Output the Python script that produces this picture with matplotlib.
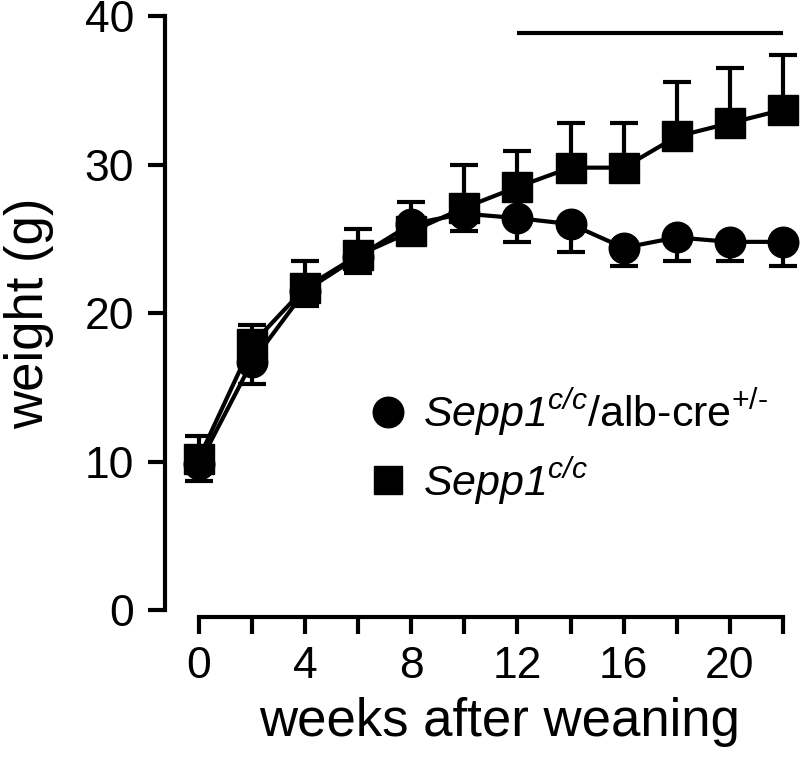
import matplotlib
matplotlib.use("Agg")
import matplotlib.pyplot as plt
from matplotlib.lines import Line2D

plt.rcParams['font.family'] = ['Liberation Sans', 'DejaVu Sans']
plt.rcParams['mathtext.fontset'] = 'custom'
plt.rcParams['mathtext.rm'] = 'Liberation Sans'
plt.rcParams['mathtext.it'] = 'Liberation Sans:italic'
plt.rcParams['mathtext.sf'] = 'Liberation Sans:italic'

weeks = [0, 2, 4, 6, 8, 10, 12, 14, 16, 18, 20, 22]
ko_mean = [9.8, 16.7, 21.5, 23.8, 26.0, 26.7, 26.4, 26.0, 24.4, 25.1, 24.8, 24.8]
ko_sd = [1.1, 1.5, 1.0, 1.1, 1.0, 1.2, 1.6, 1.9, 1.2, 1.6, 1.3, 1.6]
ctl_mean = [10.2, 17.9, 21.7, 23.9, 25.5, 27.1, 28.5, 29.8, 29.8, 31.9, 32.8, 33.7]
ctl_sd = [1.5, 1.3, 1.8, 1.8, 2.0, 2.9, 2.4, 3.0, 3.0, 3.7, 3.7, 3.7]
sig_span = [12, 22]
sig_y = 38.9
xticks = [0, 2, 4, 6, 8, 10, 12, 14, 16, 18, 20, 22]
xticklabels = ['0', '', '4', '', '8', '', '12', '', '16', '', '20', '']
yticks = [0, 10, 20, 30, 40]
label_ko = '$\\mathsf{Sepp1}^{\\mathsf{c/c}}$/alb-cre$^{\\mathrm{+/\u2010}}$'
label_ctl = '$\\mathsf{Sepp1}^{\\mathsf{c/c}}$'

fig = plt.figure(figsize=(8, 7.75), dpi=100)
ax = fig.add_axes([0.206, 0.213, 0.786, 0.766])

lw = 3
ms = 22
ax.errorbar(weeks, ko_mean, yerr=[ko_sd, [0]*len(ko_sd)], fmt='-o', color='black',
            ms=ms, lw=lw, elinewidth=lw, capsize=10, capthick=lw, clip_on=False, zorder=3)
ax.errorbar(weeks, ctl_mean, yerr=[[0]*len(ctl_sd), ctl_sd], fmt='-s', color='black',
            ms=ms - 1, lw=lw, elinewidth=lw, capsize=10, capthick=lw, clip_on=False, zorder=4)

ax.plot(sig_span, [sig_y, sig_y], color='black', lw=3, solid_capstyle='butt', clip_on=False)

ax.set_xlim(-1.28, 22.4)
ax.set_ylim(0, 40)
ax.set_xticks(xticks)
ax.set_xticklabels(xticklabels)
ax.set_yticks(yticks)

for s in ['top', 'right']:
    ax.spines[s].set_visible(False)
ax.spines['left'].set_linewidth(3)
ax.spines['bottom'].set_linewidth(3)
ax.spines['bottom'].set_position(('outward', 5))
ax.spines['bottom'].set_bounds(0, 22)
ax.spines['left'].set_bounds(0, 40)
ax.tick_params(axis='both', width=3, length=12, labelsize=32, pad=10)
ax.tick_params(axis='x', pad=9)

ax.set_xlabel('weeks after weaning', fontsize=38, labelpad=7)
ax.xaxis.label.set_x(0.533)
ax.set_ylabel('weight (g)', fontsize=38, labelpad=22)

handles = [Line2D([], [], ls='none', marker='o', ms=ms, color='black'),
           Line2D([], [], ls='none', marker='s', ms=ms - 2, color='black')]
ax.legend(handles, [label_ko, label_ctl], loc='upper left', bbox_to_anchor=(0.3, 0.405),
          frameon=False, fontsize=31, handlelength=0.8, handletextpad=0.42,
          labelspacing=0.4, borderaxespad=0)

fig.savefig('out.png', dpi=100)
